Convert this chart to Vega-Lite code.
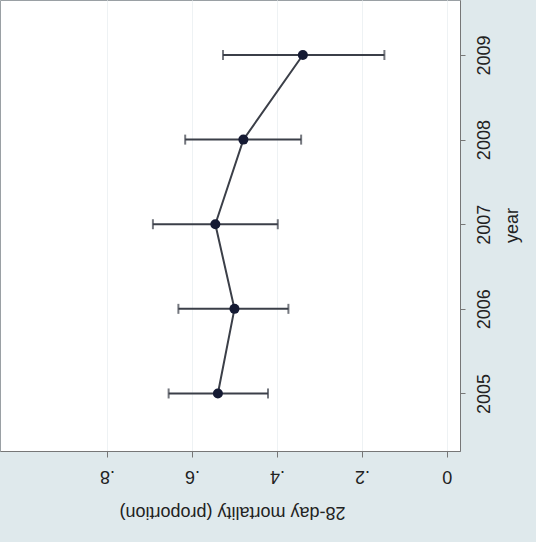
{
  "$schema": "https://vega.github.io/schema/vega-lite/v6.json",
  "width": 460,
  "height": 451,
  "padding": {"left": 0, "top": 0, "right": 76, "bottom": 91},
  "autosize": {"type": "none"},
  "background": "#dfe9ec",
  "config": {
    "view": {"fill": "white", "stroke": "#9aa0a4", "strokeWidth": 1},
    "font": "Liberation Sans"
  },
  "data": {
    "values": [
      {"year": 2005, "mean": 0.539, "lo": 0.421, "hi": 0.655},
      {"year": 2006, "mean": 0.500, "lo": 0.373, "hi": 0.632},
      {"year": 2007, "mean": 0.545, "lo": 0.398, "hi": 0.692},
      {"year": 2008, "mean": 0.479, "lo": 0.343, "hi": 0.616},
      {"year": 2009, "mean": 0.339, "lo": 0.147, "hi": 0.527}
    ]
  },
  "encoding": {
    "y": {
      "field": "year",
      "type": "quantitative",
      "scale": {"domain": [2004.32, 2009.65], "nice": false, "zero": false},
      "axis": {
        "orient": "right",
        "values": [2005, 2006, 2007, 2008, 2009],
        "format": "d",
        "title": "year",
        "grid": false,
        "labelAngle": 270,
        "titleAngle": 270,
        "labelFontSize": 18,
        "titleFontSize": 18,
        "titleFontWeight": "normal",
        "labelColor": "#222",
        "titleColor": "#222",
        "domainColor": "#777",
        "tickColor": "#777",
        "tickSize": 5,
        "labelPadding": 10,
        "titleX": 52,
        "titleY": 225,
        "titleAlign": "center",
        "titleBaseline": "middle"
      }
    }
  },
  "layer": [
    {
      "mark": {"type": "rule", "color": "#3b3f48", "strokeWidth": 2},
      "encoding": {
        "x": {
          "field": "lo",
          "type": "quantitative",
          "scale": {"domain": [-0.031, 1.052], "reverse": true, "nice": false, "zero": false},
          "axis": {
            "orient": "bottom",
            "values": [0, 0.2, 0.4, 0.6, 0.8],
            "labelExpr": "datum.value == 0 ? '0' : replace(format(datum.value, '.1f'), '0.', '.')",
            "title": "28-day mortality (proportion)",
            "labelAngle": 180,
            "titleAngle": 180,
            "labelFontSize": 18,
            "titleFontSize": 18,
            "titleFontWeight": "normal",
            "labelColor": "#222",
            "titleColor": "#222",
            "grid": true,
            "gridColor": "#eef2f4",
            "gridWidth": 1,
            "domainColor": "#777",
            "tickColor": "#777",
            "tickSize": 6,
            "labelPadding": 9,
            "titleX": 232,
            "titleY": 60,
            "titleAlign": "center",
            "titleBaseline": "middle"
          }
        },
        "x2": {"field": "hi"}
      }
    },
    {
      "mark": {"type": "tick", "orient": "vertical", "color": "#3b3f48", "size": 10, "thickness": 2},
      "encoding": {"x": {"field": "lo", "type": "quantitative"}}
    },
    {
      "mark": {"type": "tick", "orient": "vertical", "color": "#3b3f48", "size": 10, "thickness": 2},
      "encoding": {"x": {"field": "hi", "type": "quantitative"}}
    },
    {
      "mark": {"type": "line", "color": "#3b3f48", "strokeWidth": 2},
      "encoding": {
        "x": {"field": "mean", "type": "quantitative"},
        "order": {"field": "year", "type": "quantitative"}
      }
    },
    {
      "mark": {"type": "point", "filled": true, "color": "#151a33", "size": 100, "opacity": 1},
      "encoding": {"x": {"field": "mean", "type": "quantitative"}}
    }
  ]
}
